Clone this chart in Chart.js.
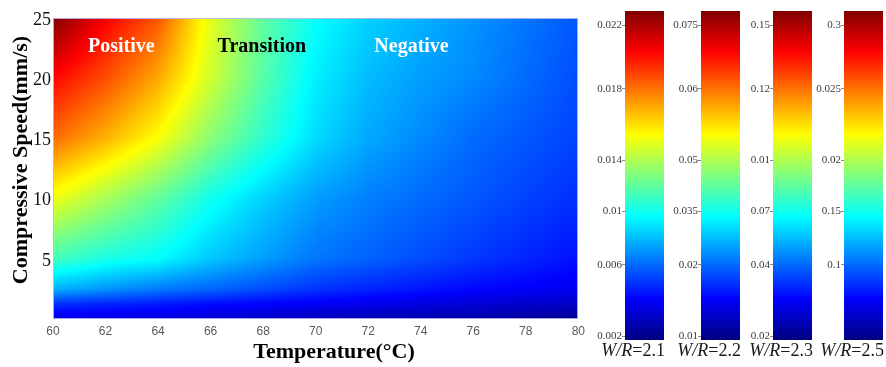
<!DOCTYPE html>
<html>
<head>
<meta charset="utf-8">
<script src="https://cdn.jsdelivr.net/npm/chart.js@4.4.0/dist/chart.umd.min.js"></script>
<style>
    html, body { margin: 0; padding: 0; background: #fff; }
    #page { position: relative; width: 886px; height: 367px; overflow: hidden; }
    #mainBox { position: absolute; left: 0; top: 0; width: 590px; height: 367px; }
    .cbBox { position: absolute; top: 0; width: 72px; height: 367px; }
    .cap {
        position: absolute; right: -1px; top: 340px;
        font-family: "Liberation Serif", "Times New Roman", serif;
        font-size: 18px; color: #1a1a1a; white-space: nowrap;
    }
</style>
</head>
<body>
<div id="page">
    <div id="mainBox"><canvas id="heatChart" width="590" height="367"></canvas></div>
</div>

<script>
// ==========================
// DATOS
// ==========================

const temperatures = [60, 62, 64, 66, 68, 70, 72, 74, 76, 78, 80];
const speeds = [0, 1.25, 2.5, 5, 10, 15, 20, 25];

// nivel del mapa (0 = azul oscuro, 1 = rojo oscuro) por fila de velocidad
const levelS0    = [0.10, 0.095, 0.09, 0.08, 0.07, 0.06, 0.05, 0.045, 0.04, 0.03, 0.02];
const levelS1_25 = [0.17, 0.16, 0.15, 0.135, 0.125, 0.115, 0.105, 0.095, 0.085, 0.075, 0.07];
const levelS2_5  = [0.30, 0.27, 0.245, 0.225, 0.20, 0.175, 0.16, 0.145, 0.13, 0.12, 0.11];
const levelS5    = [0.44, 0.40, 0.375, 0.32, 0.28, 0.24, 0.22, 0.20, 0.18, 0.16, 0.14];
const levelS10   = [0.61, 0.54, 0.47, 0.39, 0.33, 0.28, 0.25, 0.23, 0.21, 0.19, 0.17];
const levelS15   = [0.77, 0.70, 0.62, 0.51, 0.42, 0.34, 0.29, 0.26, 0.23, 0.21, 0.19];
const levelS20   = [0.87, 0.80, 0.71, 0.58, 0.46, 0.36, 0.31, 0.28, 0.26, 0.23, 0.20];
const levelS25   = [1.00, 0.88, 0.79, 0.60, 0.47, 0.38, 0.33, 0.30, 0.27, 0.24, 0.21];

const levelRows = [levelS0, levelS1_25, levelS2_5, levelS5, levelS10, levelS15, levelS20, levelS25];

const xTickValues = [60, 62, 64, 66, 68, 70, 72, 74, 76, 78, 80];
const yTickValues = [5, 10, 15, 20, 25];

const zoneLabels = ["Positive", "Transition", "Negative"];
const zoneTemps = [62.6, 67.95, 73.65];
const zoneSpeed = 22.6;

// barras de color
const ratios = ["2.1", "2.2", "2.3", "2.5"];
const barTickLevels = [0.957, 0.763, 0.547, 0.392, 0.228, 0.012];
const barLabels21 = ["0.022", "0.018", "0.014", "0.01", "0.006", "0.002"];
const barLabels22 = ["0.075", "0.06", "0.05", "0.035", "0.02", "0.01"];
const barLabels23 = ["0.15", "0.12", "0.01", "0.07", "0.04", "0.02"];
const barLabels25 = ["0.3", "0.025", "0.02", "0.15", "0.1"];
const barLabels = [barLabels21, barLabels22, barLabels23, barLabels25];


// ==========================
// COLORES
// ==========================

const SERIF = "'Liberation Serif', 'Times New Roman', serif";
const jetStops = [0, 0.125, 0.375, 0.625, 0.875, 1];

function clamp01(v) {
    return Math.max(0, Math.min(1, v));
}

function jet(v) {
    const r = clamp01(Math.min(4 * v - 1.5, -4 * v + 4.5));
    const g = clamp01(Math.min(4 * v - 0.5, -4 * v + 3.5));
    const b = clamp01(Math.min(4 * v + 0.5, -4 * v + 2.5));
    return [Math.round(r * 255), Math.round(g * 255), Math.round(b * 255)];
}

function locate(arr, v) {
    if (v <= arr[0]) return [0, 0];
    for (let i = 0; i < arr.length - 1; i++) {
        if (v <= arr[i + 1]) return [i, (v - arr[i]) / (arr[i + 1] - arr[i])];
    }
    return [arr.length - 2, 1];
}

function levelAt(t, s) {
    const [i, a] = locate(temperatures, t);
    const [j, b] = locate(speeds, s);
    const r0 = levelRows[j], r1 = levelRows[j + 1];
    const v0 = r0[i] * (1 - a) + r0[i + 1] * a;
    const v1 = r1[i] * (1 - a) + r1[i + 1] * a;
    return v0 * (1 - b) + v1 * b;
}


// ==========================
// MAPA DE CALOR
// ==========================

const heatPlugin = {
    id: "heat",
    beforeDatasetsDraw(chart) {
        const { ctx, chartArea: area, scales: { x, y } } = chart;
        const w = Math.round(area.right - area.left);
        const h = Math.round(area.bottom - area.top);
        const off = document.createElement("canvas");
        off.width = w;
        off.height = h;
        const octx = off.getContext("2d");
        const img = octx.createImageData(w, h);
        for (let j = 0; j < h; j++) {
            const s = y.getValueForPixel(area.top + j + 0.5);
            for (let i = 0; i < w; i++) {
                const t = x.getValueForPixel(area.left + i + 0.5);
                const c = jet(levelAt(t, s));
                const k = (j * w + i) * 4;
                img.data[k] = c[0];
                img.data[k + 1] = c[1];
                img.data[k + 2] = c[2];
                img.data[k + 3] = 255;
            }
        }
        octx.putImageData(img, 0, 0);
        ctx.drawImage(off, area.left, area.top);

        ctx.save();
        ctx.strokeStyle = "rgba(185,185,240,0.9)";
        ctx.lineWidth = 1;
        ctx.strokeRect(area.left + 0.5, area.top + 0.5, w - 1, h - 1);
        ctx.restore();
    },
    afterDraw(chart) {
        const { ctx, scales: { x, y } } = chart;
        ctx.save();
        ctx.textAlign = "center";
        ctx.textBaseline = "middle";
        ctx.font = "bold 20px " + SERIF;
        const zoneColors = ["#ffffff", "#000000", "#ffffff"];
        zoneLabels.forEach((label, i) => {
            ctx.fillStyle = zoneColors[i];
            ctx.fillText(label, x.getPixelForValue(zoneTemps[i]), y.getPixelForValue(zoneSpeed));
        });

        ctx.fillStyle = "#000";
        ctx.font = "bold 22px " + SERIF;
        ctx.fillText("Temperature(°C)", 334, 352);

        ctx.translate(21, 160);
        ctx.rotate(-Math.PI / 2);
        ctx.fillText("Compressive Speed(mm/s)", 0, 0);
        ctx.restore();
    }
};

const gridPoints = [];
speeds.forEach(s => temperatures.forEach(t => gridPoints.push({ x: t, y: s })));

new Chart(document.querySelector("#heatChart").getContext("2d"), {
    type: "scatter",
    data: {
        datasets: [{
            data: gridPoints,
            pointRadius: 0,
            pointHoverRadius: 0
        }]
    },
    options: {
        responsive: false,
        animation: false,
        events: [],
        layout: { padding: { left: 0, top: 18, right: 11, bottom: 0 } },
        plugins: { legend: { display: false }, tooltip: { enabled: false } },
        scales: {
            x: {
                type: "linear",
                min: 60,
                max: 80,
                afterBuildTicks: s => { s.ticks = xTickValues.map(v => ({ value: v })); },
                afterFit: s => { s.height = 48; },
                ticks: {
                    color: "#5a5a5a",
                    font: { family: "'Liberation Sans', Arial, sans-serif", size: 12 },
                    padding: 5,
                    maxRotation: 0,
                    autoSkip: false
                },
                grid: { display: false, drawTicks: false },
                border: { display: false }
            },
            y: {
                type: "linear",
                min: 0,
                max: 25,
                afterBuildTicks: s => { s.ticks = yTickValues.map(v => ({ value: v })); },
                afterFit: s => { s.width = 53; },
                ticks: {
                    color: "#111",
                    font: { family: SERIF, size: 18 },
                    padding: 2,
                    labelOffset: 2,
                    autoSkip: false
                },
                grid: { display: false, drawTicks: false },
                border: { display: false }
            }
        }
    },
    plugins: [heatPlugin]
});


// ==========================
// BARRAS DE COLOR
// ==========================

const barLefts = [592, 668, 740, 811];
const page = document.querySelector("#page");

ratios.forEach((ratio, n) => {
    const box = document.createElement("div");
    box.className = "cbBox";
    box.style.left = barLefts[n] + "px";
    const canvas = document.createElement("canvas");
    canvas.width = 72;
    canvas.height = 367;
    box.appendChild(canvas);
    const cap = document.createElement("div");
    cap.className = "cap";
    cap.innerHTML = "<i>W/R</i>=" + ratio;
    box.appendChild(cap);
    page.appendChild(box);

    const labels = barLabels[n];
    const levels = barTickLevels.slice(0, labels.length);

    new Chart(canvas.getContext("2d"), {
        type: "bar",
        data: {
            labels: ["W/R=" + ratio],
            datasets: [{
                data: [[0, 1]],
                borderWidth: 0,
                borderSkipped: false,
                barPercentage: 1,
                categoryPercentage: 1,
                backgroundColor: c => {
                    const ch = c.chart;
                    if (!ch.chartArea) return "#000080";
                    const ys = ch.scales.y;
                    const g = ch.ctx.createLinearGradient(0, ys.getPixelForValue(0), 0, ys.getPixelForValue(1));
                    jetStops.forEach(v => {
                        const rgb = jet(v);
                        g.addColorStop(v, "rgb(" + rgb.join(",") + ")");
                    });
                    return g;
                }
            }]
        },
        options: {
            responsive: false,
            animation: false,
            events: [],
            layout: { padding: { left: 0, top: 11, right: 0, bottom: 27 } },
            plugins: { legend: { display: false }, tooltip: { enabled: false } },
            scales: {
                x: { display: false },
                y: {
                    min: 0,
                    max: 1,
                    afterBuildTicks: s => { s.ticks = levels.map(v => ({ value: v })); },
                    afterFit: s => { s.width = 33; },
                    ticks: {
                        color: "#3a3a3a",
                        font: { family: SERIF, size: 11 },
                        padding: 0,
                        autoSkip: false,
                        callback: (value, index) => labels[index]
                    },
                    grid: {
                        display: true,
                        drawOnChartArea: false,
                        drawTicks: true,
                        tickLength: 3,
                        color: "#888"
                    },
                    border: { display: false }
                }
            }
        }
    });
});
</script>
</body>
</html>
